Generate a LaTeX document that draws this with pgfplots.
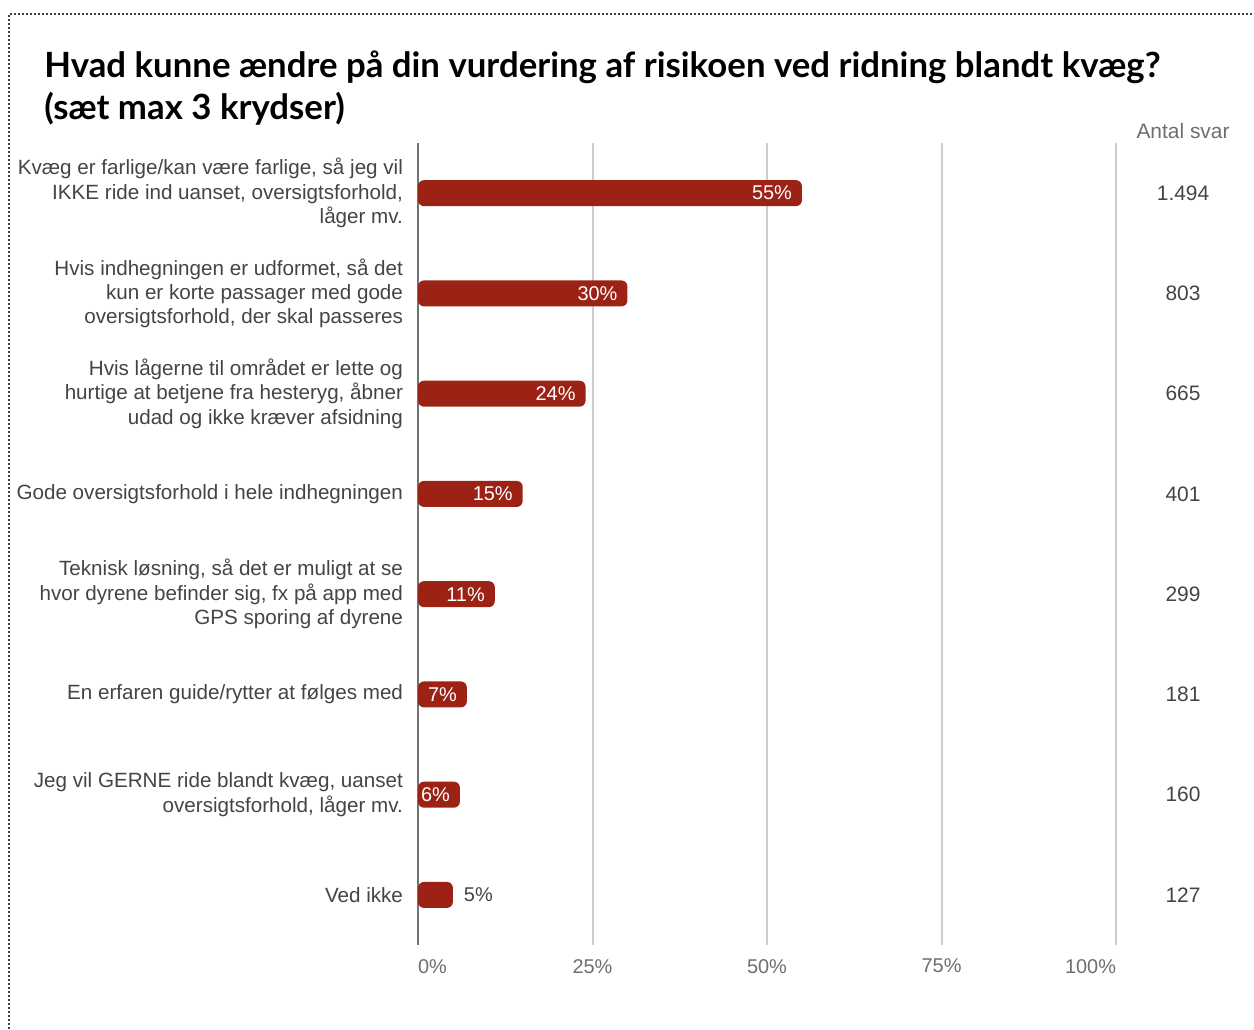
\documentclass[border=0pt]{standalone}
\usepackage{fontspec}
\setmainfont{Liberation Sans}
\newfontfamily\titlefont{Lato}
\usepackage{graphicx}
\usepackage{pgfplots}
\usepackage{pgfplotstable}
\pgfplotsset{compat=1.18}
\definecolor{barred}{RGB}{155,34,20}
\definecolor{lab}{RGB}{68,68,68}
\definecolor{tickc}{RGB}{110,110,110}
\pgfplotstableread{
y v c n
0 55 109.6 1.494
1 30 109.6 803
2 24 109.6 665
3 15 109.6 401
4 11 109.6 299
5 7 109.6 181
6 6 109.6 160
7 5 109.6 127
}\data
\newsavebox\tlineA
\newsavebox\tlineB
\begin{document}
\sbox\tlineA{\titlefont\bfseries\fontsize{18}{22}\selectfont Hvad kunne ændre på din vurdering af risikoen ved ridning blandt kvæg?}%
\sbox\tlineB{\titlefont\bfseries\fontsize{18}{22}\selectfont (sæt max 3 krydser)}%
\pgfmathsetmacro\tfac{558/(\wd\tlineA/1bp)}%
\begin{tikzpicture}
\begin{scope}[x=0.5bp,y=-0.5bp]
\path[use as bounding box] (0,0) rectangle (1254,1029);
\draw[black!75, line width=1.3bp, dash pattern=on 1bp off 1bp] (9,1029) -- (9,14) -- (1254,14);
\node[anchor=base west, inner sep=0, text=black] at (44,77) {\scalebox{\tfac}{\usebox\tlineA}};
\node[anchor=base west, inner sep=0, text=black] at (44,119) {\scalebox{\tfac}{\usebox\tlineB}};
\end{scope}
\begin{axis}[
  at={(209bp,-472.5bp)}, anchor=south west,
  scale only axis, width=349bp, height=401bp,
  xmin=0, xmax=100, ymin=-0.5, ymax=7.5, y dir=reverse,
  xtick={0,25,50,75,100},
  xticklabels={\rlap{0\%},25\%,50\%,75\%,\llap{100\%}},
  ytick={0,...,7},
  yticklabels={
    {Kvæg er farlige/kan være farlige, så jeg vil\\IKKE ride ind uanset, oversigtsforhold,\\låger mv.},
    {Hvis indhegningen er udformet, så det\\kun er korte passager med gode\\oversigtsforhold, der skal passeres},
    {Hvis lågerne til området er lette og\\hurtige at betjene fra hesteryg, åbner\\udad og ikke kræver afsidning},
    {Gode oversigtsforhold i hele indhegningen},
    {Teknisk løsning, så det er muligt at se\\hvor dyrene befinder sig, fx på app med\\GPS sporing af dyrene},
    {En erfaren guide/rytter at følges med},
    {Jeg vil GERNE ride blandt kvæg, uanset\\oversigtsforhold, låger mv.},
    {Ved ikke}},
  axis line style={draw=none}, major tick length=0pt,
  xmajorgrids, major grid style={line width=1bp, color=black!20},
  xticklabel style={font=\fontsize{10}{12}\selectfont, text=tickc, yshift=-3.5bp},
  yticklabel style={font=\fontsize{10.35}{12.25}\selectfont, text=lab, align=right, xshift=-4bp},
  /pgf/number format/assume math mode=true,
  clip=false,
]
\draw[color=black!55, line width=1bp] (axis cs:0,-0.5) -- (axis cs:0,7.5);
\addplot[xbar, bar width=13bp, bar shift=0pt, fill=barred, draw=none, rounded corners=3bp] table[x=v, y=y] {\data};
\addplot[draw=none, mark=none, restrict y to domain=0:6,
  nodes near coords={\pgfmathprintnumber{\pgfplotspointmeta}\%}, point meta=x,
  every node near coord/.append style={anchor=east, text=white, font=\fontsize{10}{12}\selectfont, xshift=-1.5bp}]
  table[x=v, y=y] {\data};
\addplot[draw=none, mark=none, restrict y to domain=7:7,
  nodes near coords={\pgfmathprintnumber{\pgfplotspointmeta}\%}, point meta=x,
  every node near coord/.append style={anchor=west, text=lab, font=\fontsize{10}{12}\selectfont, xshift=2bp}]
  table[x=v, y=y] {\data};
\addplot[draw=none, mark=none,
  nodes near coords, point meta=explicit symbolic,
  every node near coord/.append style={anchor=center, text=lab, font=\fontsize{10.5}{12}\selectfont}]
  table[x=c, y=y, meta=n] {\data};
\node[text=tickc, font=\fontsize{10.5}{12}\selectfont] at (axis cs:109.6,-0.62) {Antal svar};
\end{axis}
\end{tikzpicture}
\end{document}
